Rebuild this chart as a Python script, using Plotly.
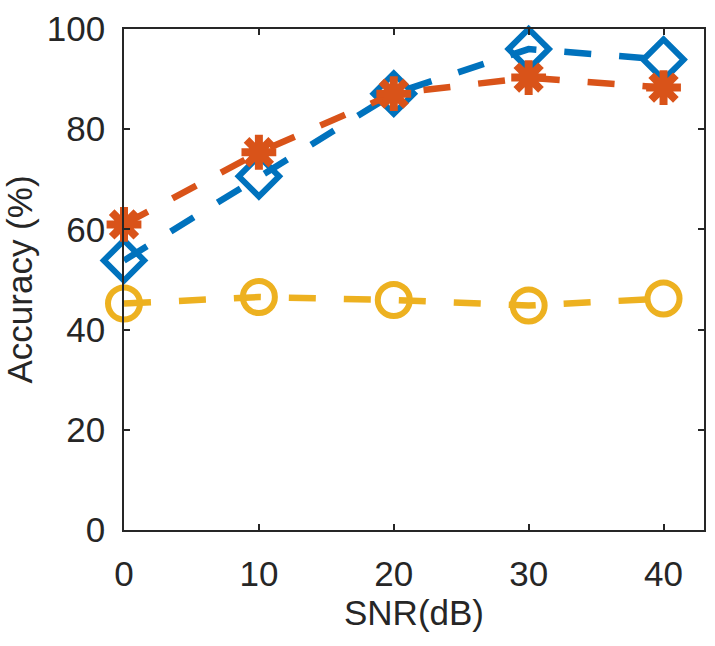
import plotly.graph_objects as go

# SNR levels (dB) and classification accuracy (%) for three methods
snr_db = [0, 10, 20, 30, 40]
acc_blue = [53.8, 70.6, 87.1, 96.0, 93.9]
acc_red = [61.0, 75.4, 87.1, 90.3, 88.3]
acc_yellow = [45.2, 46.5, 45.9, 44.8, 46.2]

x_ticks = [0, 10, 20, 30, 40]
y_ticks = [0, 20, 40, 60, 80, 100]

FONT = "Liberation Sans, Arial, sans-serif"
INK = "#262626"
DASH = "27px,28px"
FS = 35

fig = go.Figure()

fig.add_trace(go.Scatter(
    x=snr_db, y=acc_blue, mode="lines+markers", cliponaxis=False,
    line=dict(color="#0072BD", width=6.5, dash=DASH),
    marker=dict(symbol="diamond-open", size=31, color="#0072BD",
                line=dict(color="#0072BD", width=6)),
))
fig.add_trace(go.Scatter(
    x=snr_db, y=acc_red, mode="lines+markers", cliponaxis=False,
    line=dict(color="#D95319", width=6.5, dash=DASH),
    marker=dict(symbol="asterisk-open", size=29, color="#D95319",
                line=dict(color="#D95319", width=8)),
))
fig.add_trace(go.Scatter(
    x=snr_db, y=acc_yellow, mode="lines+markers", cliponaxis=False,
    line=dict(color="#EDB120", width=6.5, dash=DASH),
    marker=dict(symbol="circle-open", size=32, color="#EDB120",
                line=dict(color="#EDB120", width=6)),
))

axis_common = dict(
    showline=True, linecolor=INK, linewidth=1.5, mirror="ticks",
    ticks="inside", ticklen=6, tickwidth=1.5, tickcolor=INK,
    showgrid=False, zeroline=False,
    tickfont=dict(family=FONT, size=FS, color=INK),
)

fig.update_layout(
    width=715, height=646,
    margin=dict(l=124, r=9, t=25, b=116),
    paper_bgcolor="white", plot_bgcolor="white",
    showlegend=False,
    xaxis=dict(range=[0, 43], tickvals=x_ticks, ticktext=[str(v) for v in x_ticks],
               ticklabelstandoff=12,
               title=dict(text="SNR(dB)", font=dict(family=FONT, size=FS, color=INK),
                          standoff=8),
               **axis_common),
    yaxis=dict(range=[0, 100], tickvals=y_ticks, ticktext=[str(v) for v in y_ticks],
               ticklabelstandoff=10,
               title=dict(text="Accuracy (%)", font=dict(family=FONT, size=FS, color=INK),
                          standoff=4),
               **axis_common),
)

fig.write_html("out.html")
